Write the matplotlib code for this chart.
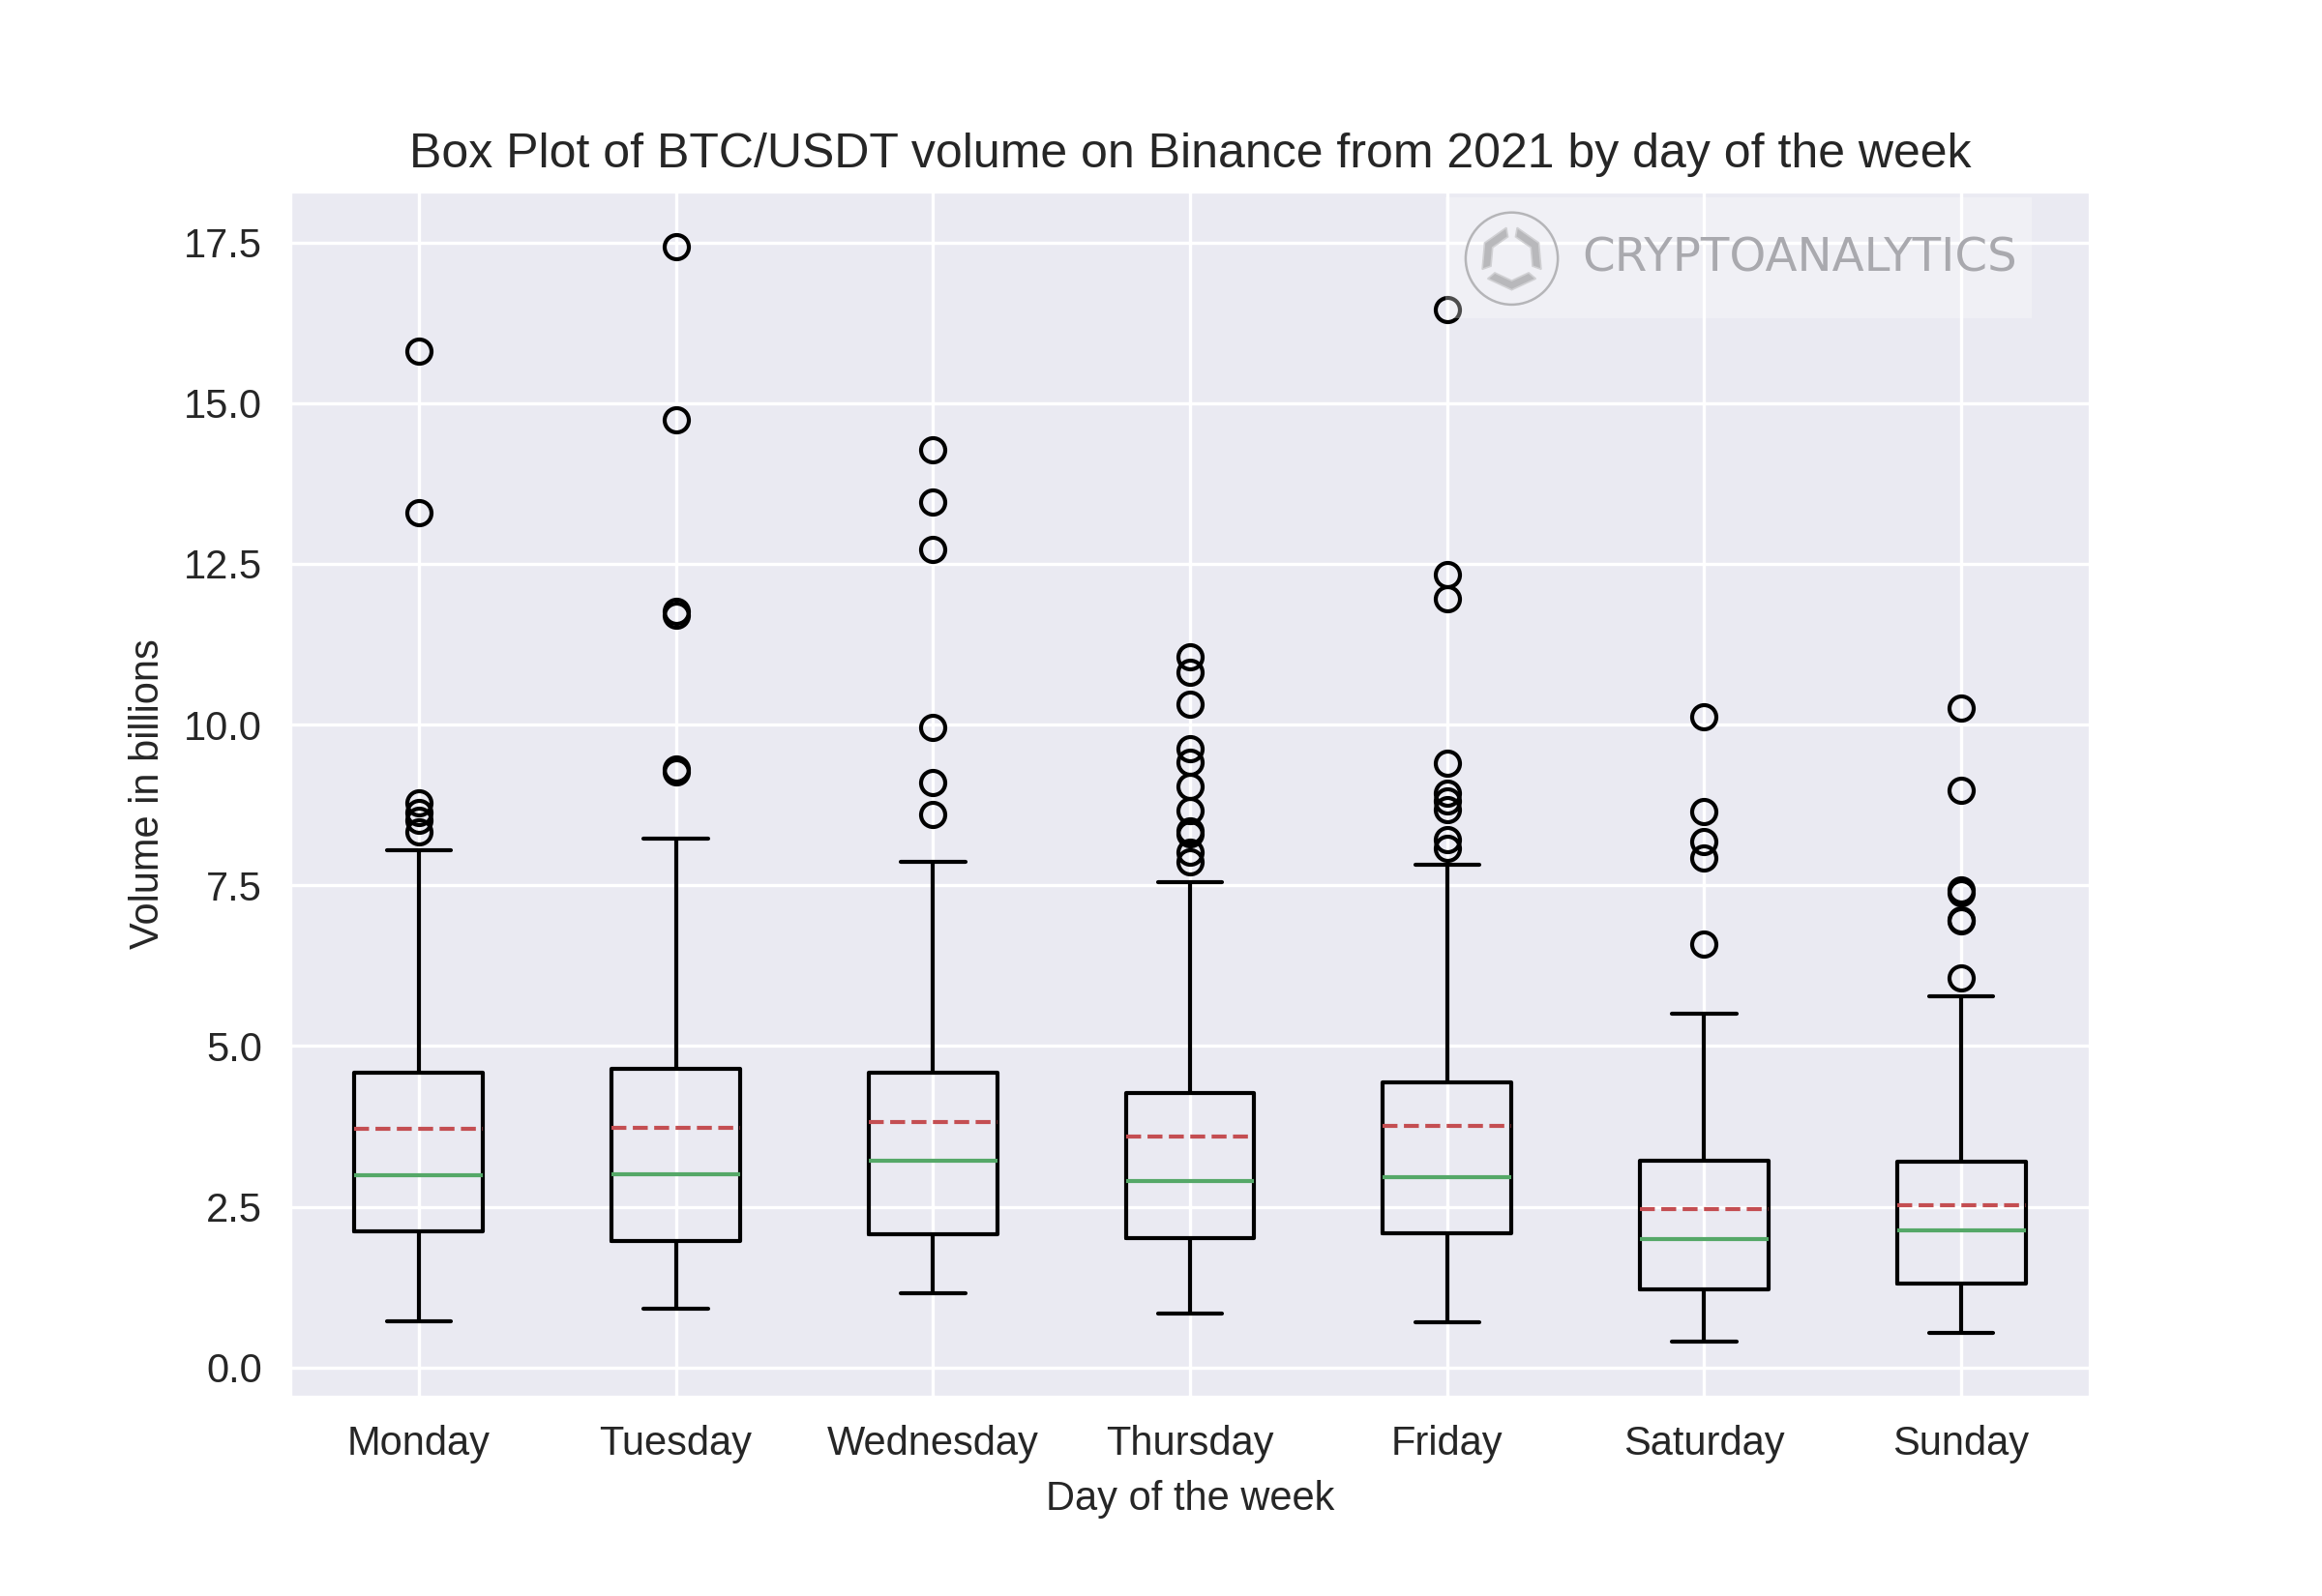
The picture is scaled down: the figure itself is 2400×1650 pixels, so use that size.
import matplotlib
matplotlib.use("Agg")
import matplotlib.pyplot as plt
import matplotlib.patches as mpatches
import numpy as np
import seaborn as sns

# Values (billions)
days = ["Monday", "Tuesday", "Wednesday", "Thursday", "Friday", "Saturday", "Sunday"]
whislo = [0.72, 0.91, 1.16, 0.84, 0.70, 0.40, 0.53]
q1 = [2.12, 1.97, 2.07, 2.01, 2.08, 1.21, 1.30]
med = [2.99, 3.01, 3.22, 2.90, 2.96, 2.00, 2.13]
mean = [3.71, 3.73, 3.82, 3.59, 3.76, 2.47, 2.52]
q3 = [4.59, 4.65, 4.59, 4.27, 4.44, 3.22, 3.20]
whishi = [8.04, 8.22, 7.87, 7.55, 7.82, 5.51, 5.77]
fliers = [
    [15.81, 13.29, 8.79, 8.63, 8.51, 8.33],
    [17.44, 14.74, 11.76, 11.70, 9.31, 9.27],
    [14.28, 13.46, 12.73, 9.95, 9.10, 8.60],
    [11.06, 10.82, 10.32, 9.62, 9.41, 9.04, 8.66, 8.34, 8.30, 8.01, 7.86],
    [16.46, 12.34, 11.95, 9.40, 8.94, 8.81, 8.68, 8.21, 8.08],
    [10.12, 8.64, 8.18, 7.93, 6.58],
    [10.26, 8.98, 7.43, 7.39, 6.96, 6.94, 6.06],
]

sns.set_style("darkgrid")
plt.rcParams['font.family'] = ['Liberation Sans', 'DejaVu Sans']

stats = []
for i, d in enumerate(days):
    stats.append({"label": d, "whislo": whislo[i], "q1": q1[i], "med": med[i],
                  "mean": mean[i], "q3": q3[i], "whishi": whishi[i], "fliers": fliers[i]})

fig, ax = plt.subplots(figsize=(8, 5.5), dpi=300)
fig.subplots_adjust(left=0.125, right=0.9, bottom=0.125, top=0.88)

ax.bxp(stats, showmeans=True, meanline=True,
       boxprops=dict(color="black"),
       whiskerprops=dict(color="black"),
       capprops=dict(color="black"),
       medianprops=dict(color="#55A868"),
       meanprops=dict(color="#C44E52", linestyle="--"),
       flierprops=dict(marker="o", markerfacecolor="none", markeredgecolor="black"))

ax.set_title("Box Plot of BTC/USDT volume on Binance from 2021 by day of the week", fontsize=12)
ax.set_xlabel("Day of the week")
ax.set_ylabel("Volume in billions")

# watermark
ax.add_patch(mpatches.Rectangle((0.642, 0.895), 0.326, 0.1, transform=ax.transAxes,
                                facecolor="white", edgecolor="none", alpha=0.3, zorder=5))
ax.text(0.718, 0.945, "CRYPTOANALYTICS", transform=ax.transAxes, fontsize=11.6,
        family="DejaVu Sans", color="#a9a9ae", va="center", ha="left", zorder=6)

logo = fig.add_axes([0.651 - 0.0208, 0.838 - 0.0303, 0.0417, 0.0606])
logo.set_xlim(-1.05, 1.05)
logo.set_ylim(-1.05, 1.05)
logo.set_aspect("equal")
logo.axis("off")
logo.add_patch(mpatches.Circle((0, 0), 1.0, fill=False, edgecolor="#b5b5b8", linewidth=0.6))
for k in range(3):
    a = np.linspace(np.deg2rad(100 + 120 * k), np.deg2rad(200 + 120 * k), 3)
    ro, ri = 0.68, 0.48
    outer = [(ro * np.cos(t), ro * np.sin(t)) for t in a]
    inner = [(ri * np.cos(t), ri * np.sin(t)) for t in a[::-1]]
    logo.add_patch(mpatches.Polygon(outer + inner, closed=True,
                                    facecolor="#b8b8bb", edgecolor="#d0d0d3", linewidth=0.4))

fig.savefig("out.png", dpi=300)
